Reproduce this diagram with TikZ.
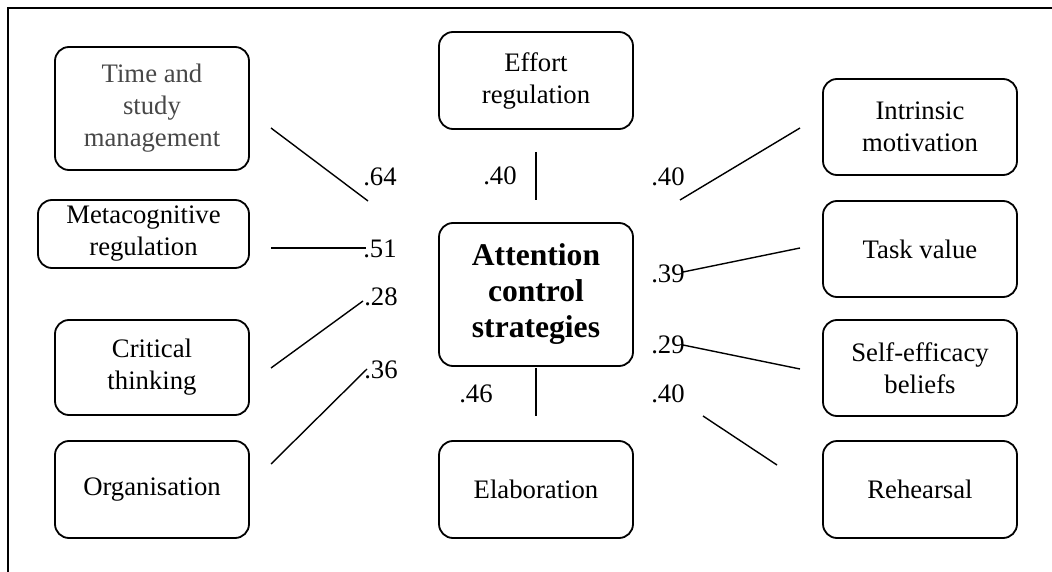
\documentclass[tikz,border=0pt]{standalone}
\usepackage{fontspec}
\setmainfont{Liberation Serif}
\begin{document}
\begin{tikzpicture}[x=1pt,y=-1pt,
  box/.style={draw, line width=1.8pt, rounded corners=14pt, align=center,
    inner sep=0pt, minimum width=194pt, minimum height=97pt,
    font=\fontsize{26.7}{32}\selectfont},
  coef/.style={anchor=base, inner sep=0pt, font=\fontsize{26.7}{32}\selectfont},
  link/.style={line width=1.4pt}]
\useasboundingbox (0,0) rectangle (1052,572);
% frame
\draw[line width=1.2pt] (8,572) -- (8,8) -- (1052,8);

% left column
\node[box, minimum height=123pt, text=black!72] (tsm) at (152,108.5) {Time and\\study\\management};
\node[box, minimum width=211pt, minimum height=68pt] (meta) at (143.5,234) {Metacognitive\\regulation};
\node[box, minimum height=95pt] (crit) at (152,367.5) {Critical\\thinking};
\node[box] (org) at (152,489.5) {Organisation};

% middle column
\node[box] (eff) at (536,80.5) {Effort\\regulation};
\node[box, minimum height=143pt, font=\fontsize{31.6}{36}\selectfont\bfseries] (att) at (536,294.5) {Attention\\control\\strategies};
\node[box] (ela) at (536,489.5) {Elaboration};

% right column
\node[box, minimum height=96pt] (intr) at (920,127) {Intrinsic\\motivation};
\node[box, minimum height=96pt] (task) at (920,249) {Task value};
\node[box, minimum height=96pt] (self) at (920,368) {Self-efficacy\\beliefs};
\node[box] (reh) at (920,489.5) {Rehearsal};

% coefficients
\node[coef] (c64) at (380,186) {.64};
\node[coef] (c51) at (380,258) {.51};
\node[coef] (c28) at (381,305) {.28};
\node[coef] (c36) at (381,378) {.36};
\node[coef] (c40e) at (500,185) {.40};
\node[coef] (c46) at (476,402) {.46};
\node[coef] (c40i) at (668,186) {.40};
\node[coef] (c39) at (668,282) {.39};
\node[coef] (c29) at (668,353) {.29};
\node[coef] (c40r) at (668,402) {.40};

% connector ends
\coordinate (p1a) at (271,128); \coordinate (p1b) at (368,201);
\coordinate (p2a) at (271,248); \coordinate (p2b) at (366,248);
\coordinate (p3a) at (271,368); \coordinate (p3b) at (363,301);
\coordinate (p4a) at (271,464); \coordinate (p4b) at (367,369);
\coordinate (p5a) at (536,152); \coordinate (p5b) at (536,200);
\coordinate (p6a) at (536,368); \coordinate (p6b) at (536,416);
\coordinate (p7a) at (800,128); \coordinate (p7b) at (680,200);
\coordinate (p8a) at (800,248); \coordinate (p8b) at (683,272);
\coordinate (p9a) at (683,345); \coordinate (p9b) at (800,369);
\coordinate (p10a) at (703,416); \coordinate (p10b) at (777,465);

\draw[link] (p1a) -- (p1b);
\draw[link] (p2a) -- (p2b);
\draw[link] (p3a) -- (p3b);
\draw[link] (p4a) -- (p4b);
\draw[link] (p5a) -- (p5b);
\draw[link] (p6a) -- (p6b);
\draw[link] (p7a) -- (p7b);
\draw[link] (p8a) -- (p8b);
\draw[link] (p9a) -- (p9b);
\draw[link] (p10a) -- (p10b);
\end{tikzpicture}
\end{document}
